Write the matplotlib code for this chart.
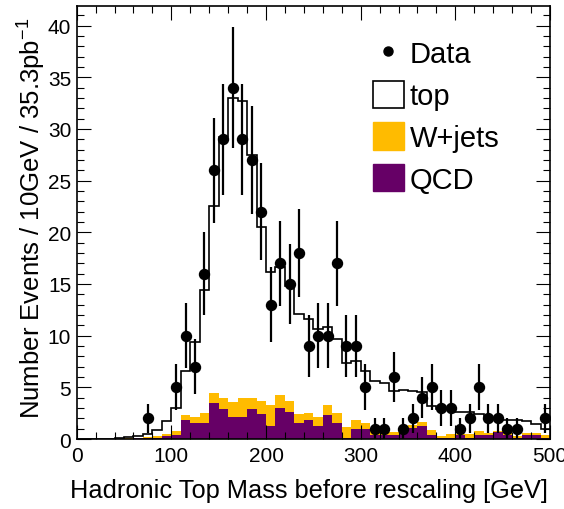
import numpy as np
import matplotlib
matplotlib.use("Agg")
import matplotlib.pyplot as plt
from matplotlib.patches import Patch
from matplotlib.lines import Line2D

plt.rcParams['font.family'] = ['Liberation Sans', 'DejaVu Sans']
plt.rcParams['mathtext.default'] = 'regular'

# ---- data (10 GeV bins, 0-500 GeV) ----
bin_edges = np.arange(0, 510, 10)

qcd = [0, 0, 0, 0, 0, 0.03, 0.05, 0.08, 0.1, 0.3,
       0.4, 1.8, 1.55, 1.55, 3.5, 2.9, 2.1, 2.1, 2.9, 2.38,
       1.23, 2.97, 2.65, 1.55, 1.84, 1.23, 2.35, 1.52, 0.1, 0.97,
       0.97, 0.42, 0.42, 0.35, 0.97, 1.03, 1.3, 0.4, 0.1, 0.1,
       0.4, 0.1, 0.4, 0.4, 0.65, 0.4, 0.1, 0.35, 0.35, 0.1]

wjets = [0, 0, 0, 0, 0, 0.02, 0.05, 0.07, 0.2, 0.2,
         0.4, 0.5, 0.55, 0.95, 0.95, 1.07, 1.45, 1.84, 1.04, 1.29,
         2.07, 1.29, 1.05, 0.85, 0.66, 0.93, 0.95, 0.98, 1.1, 0.87,
         0.58, 0.55, 0.28, 0.35, 0.33, 0.32, 0.38, 0.47, 0.22, 0.35,
         0.1, 0.35, 0.37, 0.15, 0.15, 0.25, 0.2, 0.25, 0.25, 0.25]

top = [0, 0, 0, 0.02, 0.05, 0.1, 0.2, 0.35, 0.55, 1.25,
       2.2, 4.3, 7.3, 11.9, 18.05, 25.23, 29.45, 28.76, 23.56, 16.83,
       12.9, 12.34, 11.15, 9.7, 9.1, 8.49, 7.5, 7.2, 6.2, 5.71,
       5.05, 4.63, 4.7, 3.9, 3.4, 3.25, 2.82, 2.33, 2.58, 2.45,
       2.1, 2.15, 1.63, 1.45, 1.2, 1.15, 1.5, 1.1, 0.85, 0.65]

data_counts = [0, 0, 0, 0, 0, 0, 0, 2, 0, 0,
               5, 10, 7, 16, 26, 29, 34, 29, 27, 22,
               13, 17, 15, 18, 9, 10, 10, 17, 9, 9,
               5, 1, 1, 6, 1, 2, 4, 5, 3, 3,
               1, 2, 5, 2, 2, 1, 1, 0, 0, 2]

labels = ["Data", "top", "W+jets", "QCD"]
col_wjets = "#FFBB00"
col_qcd = "#660066"

# ---- figure ----
W, H = 564, 510
fig = plt.figure(figsize=(W / 100, H / 100), dpi=100)
ax = fig.add_axes([76.7 / W, 1 - 440 / H, (550 - 76.7) / W, (440 - 7) / H])

qcd_a = np.array(qcd)
wj_a = np.array(wjets)
top_a = np.array(top)
cum_w = qcd_a + wj_a
cum_t = cum_w + top_a

ax.stairs(cum_t, bin_edges, fill=True, color='white', zorder=1)
ax.stairs(cum_w, bin_edges, fill=True, color=col_wjets, lw=0, zorder=1.1)
ax.stairs(qcd_a, bin_edges, fill=True, color=col_qcd, lw=0, zorder=1.2)
ax.stairs(cum_t, bin_edges, color='black', lw=1.2, baseline=None, zorder=2)

centers = 0.5 * (bin_edges[:-1] + bin_edges[1:])
dc = np.array(data_counts, dtype=float)
m = dc > 0
ax.errorbar(centers[m], dc[m], yerr=np.sqrt(dc[m]), fmt='o', color='black',
            ms=7.2, elinewidth=1.6, capsize=0, zorder=3)

ax.set_xlim(0, 500)
ax.set_ylim(0, 41.9)
ax.set_xticks(np.arange(0, 501, 100))
ax.set_xticks(np.arange(0, 501, 20), minor=True)
ax.set_yticks(np.arange(0, 41, 5))
ax.set_yticks(np.arange(0, 42, 1), minor=True)
ax.tick_params(which='both', direction='in', top=True, right=True, width=0.8,
               labelsize=15)
ax.tick_params(which='major', length=10)
ax.tick_params(which='minor', length=5)
ax.tick_params(axis='y', pad=4)
ax.tick_params(axis='x', pad=5)
for s in ax.spines.values():
    s.set_linewidth(1.2)

fig.text(32 / W, 1 - 18 / H, r"Number Events / 10GeV / 35.3pb$^{-1}$",
         rotation=90, ha='center', va='top', fontsize=18.5)
fig.text(548 / W, 1 - 498 / H, "Hadronic Top Mass before rescaling [GeV]",
         ha='right', va='baseline', fontsize=18.3)

handles = [
    Line2D([], [], marker='o', color='black', ls='none', ms=6.5),
    Patch(facecolor='white', edgecolor='black', lw=1.2),
    Patch(facecolor=col_wjets, edgecolor=col_wjets),
    Patch(facecolor=col_qcd, edgecolor=col_qcd),
]
fig.legend(handles, labels, loc='upper left',
           bbox_to_anchor=(373 / W, 1 - 40 / H), frameon=False,
           fontsize=21, handlelength=1.05, handleheight=1.05,
           handletextpad=0.2, labelspacing=0.42, borderpad=0, borderaxespad=0)

fig.savefig("out.png", dpi=100)
